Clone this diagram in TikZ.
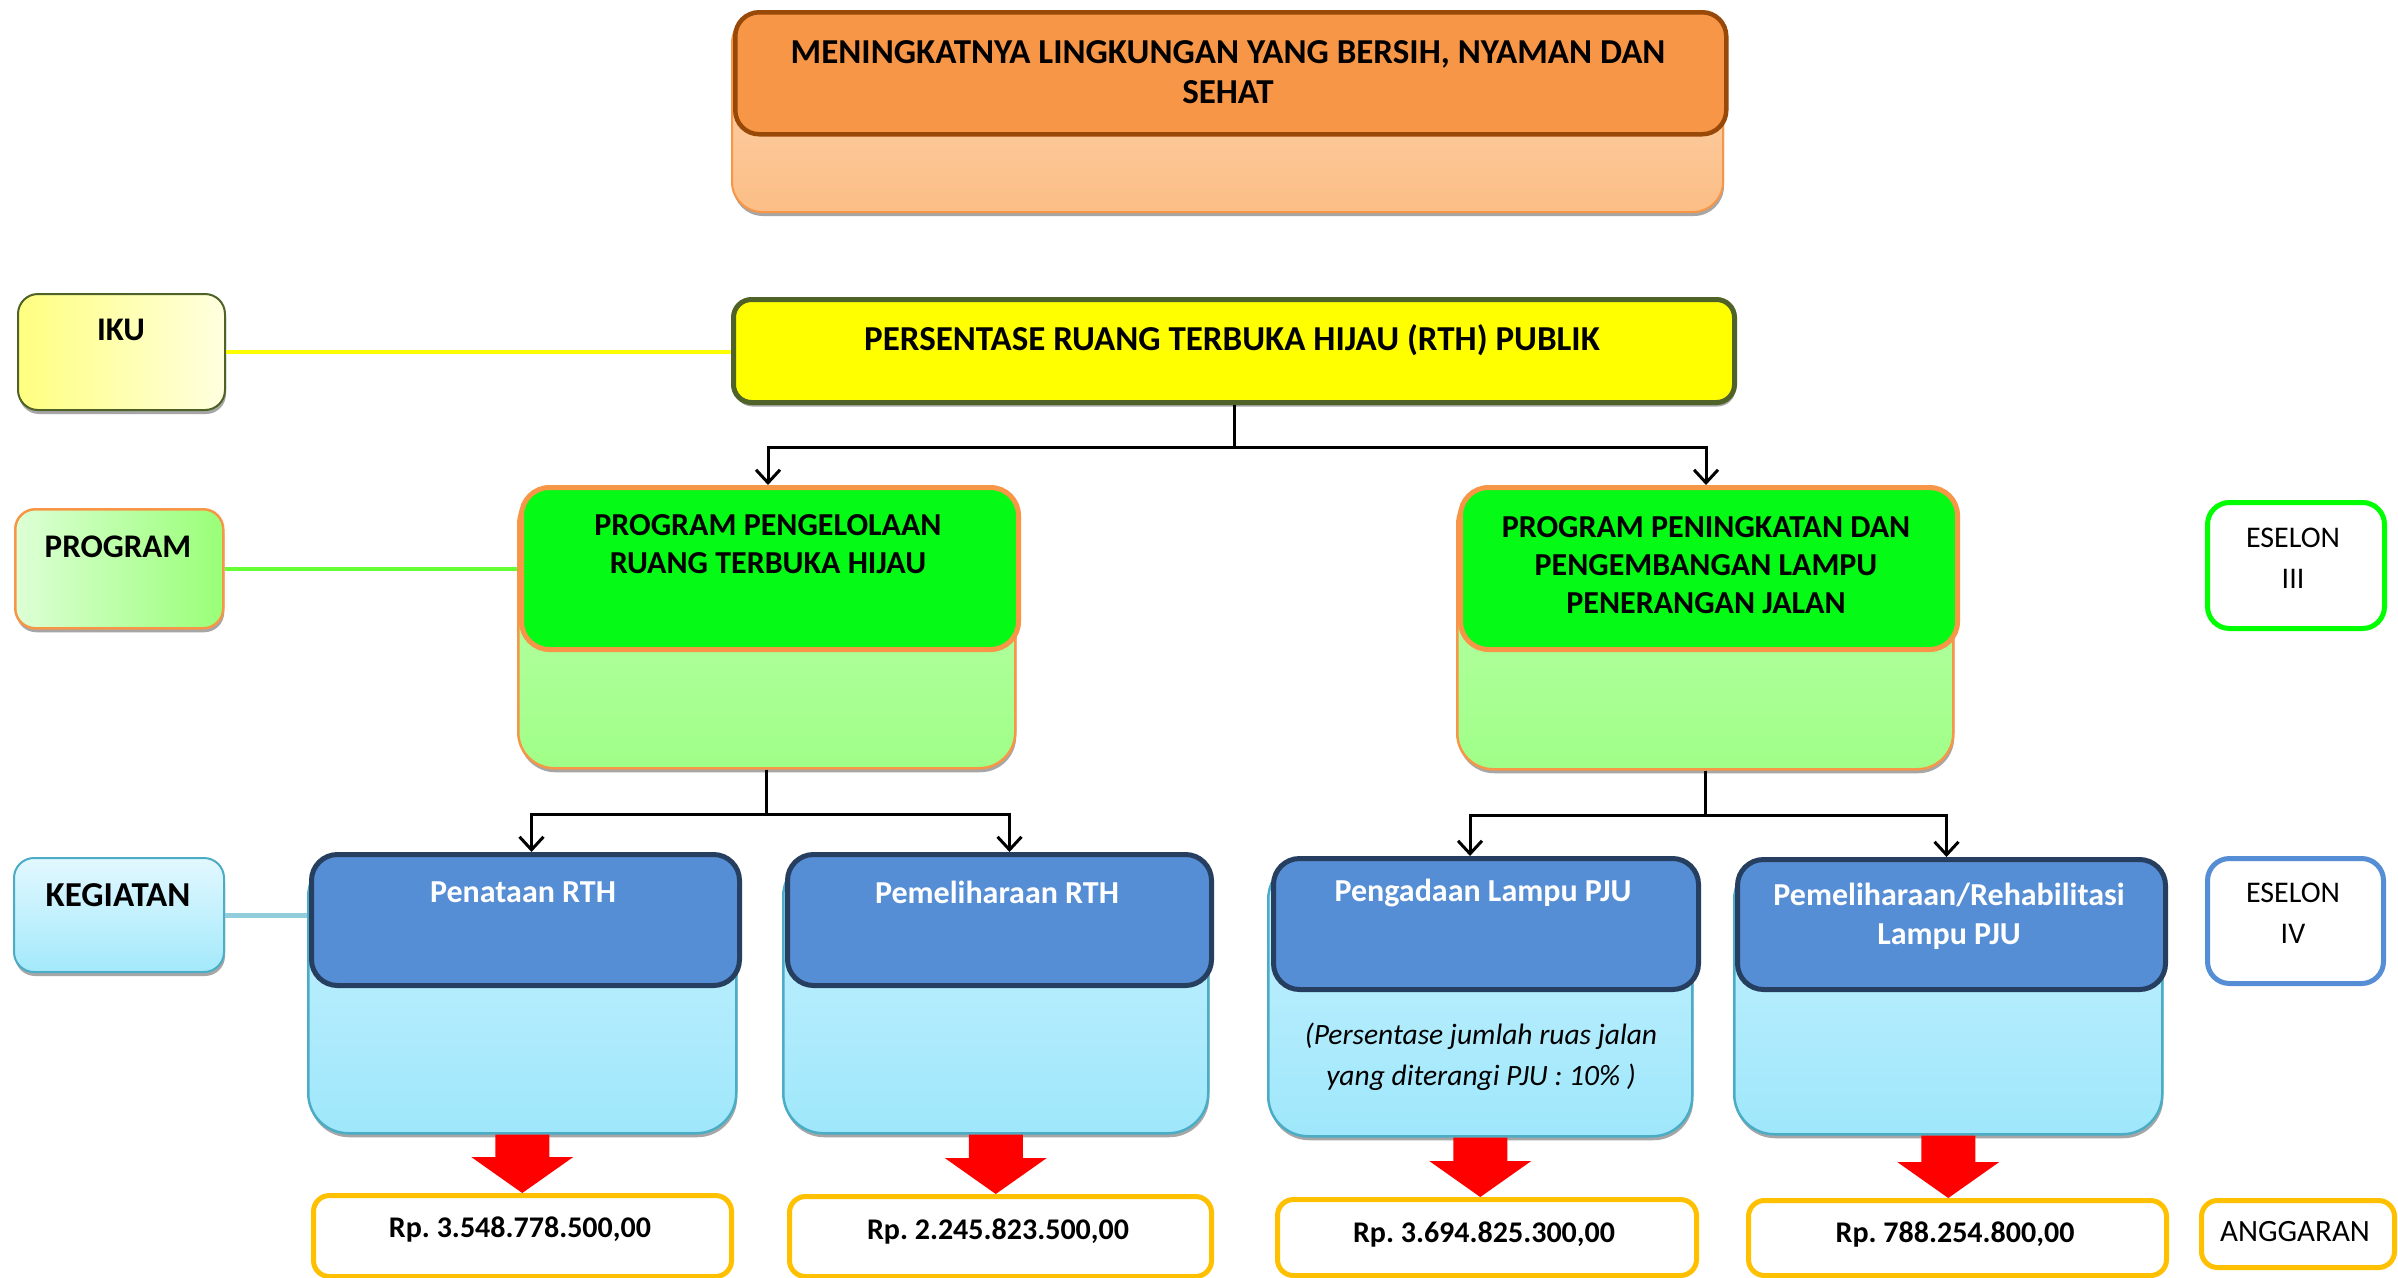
\documentclass[tikz,border=0pt]{standalone}
\usepackage{fontspec}
\setmainfont{Carlito}
\usetikzlibrary{arrows.meta,shadows,calc}
\frenchspacing
\definecolor{goalF}{HTML}{F79646}
\definecolor{goalD}{HTML}{984807}
\definecolor{goalL1}{HTML}{FFD6B2}
\definecolor{goalL2}{HTML}{FBBE86}
\definecolor{olive}{HTML}{4F6228}
\definecolor{ikuL}{HTML}{FFFF80}
\definecolor{ikuR}{HTML}{FFFFE0}
\definecolor{yel}{HTML}{FFFF00}
\definecolor{progL}{HTML}{DDFFD6}
\definecolor{progR}{HTML}{99FF77}
\definecolor{grn}{HTML}{05FA15}
\definecolor{grnL1}{HTML}{BDFFAD}
\definecolor{grnL2}{HTML}{A0FF88}
\definecolor{progline}{HTML}{66FF33}
\definecolor{kegT}{HTML}{E2F8FF}
\definecolor{kegB}{HTML}{A3E9FB}
\definecolor{teal}{HTML}{4BACC6}
\definecolor{kegline}{HTML}{92CDDC}
\definecolor{blu}{HTML}{558ED5}
\definecolor{navy}{HTML}{263E5F}
\definecolor{bluL1}{HTML}{C6F1FF}
\definecolor{bluL2}{HTML}{9FE7FB}
\definecolor{gold}{HTML}{FFC000}
\definecolor{eselgrn}{HTML}{00FF00}
\definecolor{arrred}{HTML}{FF0000}
\tikzset{
  box/.style={rectangle, anchor=north west, inner sep=0pt},
  shad/.style={drop shadow={shadow xshift=1pt, shadow yshift=-4pt, fill=black!35, opacity=1}},
  goalback/.style={box, shad, rounded corners=30pt, top color=goalL1, bottom color=goalL2, draw=goalF, line width=2pt},
  goalfront/.style={box, rounded corners=24pt, fill=goalF, draw=goalD, line width=4.5pt},
  ikubox/.style={box, shad, rounded corners=20pt, left color=ikuL, right color=ikuR, draw=olive, line width=2pt},
  rthbox/.style={box, shad, rounded corners=18pt, fill=yel, draw=olive, line width=5pt},
  proglabel/.style={box, shad, rounded corners=20pt, left color=progL, right color=progR, draw=goalF, line width=2.5pt},
  progback/.style={box, shad, rounded corners=36pt, top color=grnL1, bottom color=grnL2, draw=goalF, line width=2.5pt},
  progfront/.style={box, rounded corners=28pt, fill=grn, draw=goalF, line width=5pt},
  keglabel/.style={box, shad, rounded corners=20pt, top color=kegT, bottom color=kegB, draw=teal, line width=2pt},
  kegback/.style={box, shad, rounded corners=40pt, top color=bluL1, bottom color=bluL2, draw=teal, line width=2.5pt},
  kegfront/.style={box, rounded corners=26pt, fill=blu, draw=navy, line width=5pt},
  eselbox/.style={box, rounded corners=22pt, fill=white, line width=5pt},
  budget/.style={box, rounded corners=16pt, fill=white, draw=gold, line width=5pt},
  conn/.style={draw=black, line width=3pt, -{Straight Barb[length=13pt, width=24pt, line width=3pt]}},
  bigtxt/.style={font=\fontsize{35}{40}\selectfont\bfseries, align=center, inner sep=0pt},
  progtxt/.style={font=\fontsize{32}{38}\selectfont\bfseries, align=center, inner sep=0pt},
  labtxt/.style={font=\fontsize{33}{40}\selectfont\bfseries, align=center, inner sep=0pt},
  whitetxt/.style={font=\fontsize{32}{39}\selectfont\bfseries, text=white, align=center, inner sep=0pt},
  eseltxt/.style={font=\fontsize{30}{41}\selectfont, align=center, inner sep=0pt},
  rptxt/.style={font=\fontsize{30}{36}\selectfont\bfseries, inner sep=0pt},
}
\newcommand\redarrow[2]{%
  \coordinate (#1tip) at (#1.south |- #2.north);
  \fill[arrred] ($(#1.south)+(-27,0)$) -- ($(#1.south)+(27,0)$) -- ($(#1tip)+(27,-36)$) -- ($(#1tip)+(51,-36)$) -- (#1tip) -- ($(#1tip)+(-51,-36)$) -- ($(#1tip)+(-27,-36)$) -- cycle;}
\begin{document}
\begin{tikzpicture}[x=1pt,y=-1pt]
\useasboundingbox[fill=white] (0,0) rectangle (2398,1277);

% top goal
\node[goalback, minimum width=991pt, minimum height=199pt] (goalb) at (731,12) {};
\node[goalfront, minimum width=991pt, minimum height=122pt] (goal) at (733,10) {};
\node[bigtxt] (goal-t) at (1228,72) {MENINGKATNYA LINGKUNGAN YANG BERSIH, NYAMAN DAN\\SEHAT};

% IKU row
\node[ikubox, minimum width=207pt, minimum height=116pt] (iku) at (17,293) {};
\node[labtxt] (iku-t) at (121,330) {IKU};
\node[rthbox, minimum width=1001pt, minimum height=103pt] (rth) at (731,297) {};
\node[bigtxt] (rth-t) at (1232,340) {PERSENTASE RUANG TERBUKA HIJAU (RTH) PUBLIK};
\draw[yel, line width=4pt] (iku.east) -- (iku.east -| rth.west);

% PROGRAM row
\node[proglabel, minimum width=208pt, minimum height=119pt] (proglab) at (14,508) {};
\node[labtxt] (proglab-t) at (118,547) {PROGRAM};
\node[progback, minimum width=497pt, minimum height=280pt] (p1b) at (517,487) {};
\node[progfront, minimum width=497pt, minimum height=162pt] (p1) at (519,485) {};
\node[progtxt] (p1-t) at (768,544) {PROGRAM PENGELOLAAN\\RUANG TERBUKA HIJAU};
\node[progback, minimum width=496pt, minimum height=281pt] (p2b) at (1456,487) {};
\node[progfront, minimum width=497pt, minimum height=162pt] (p2) at (1458,485) {};
\node[progtxt] (p2-t) at (1706,565) {PROGRAM PENINGKATAN DAN\\PENGEMBANGAN LAMPU\\PENERANGAN JALAN};
\draw[progline, line width=4pt] (proglab.east) -- (proglab.east -| p1b.west);
\node[eselbox, draw=eselgrn, minimum width=177pt, minimum height=126pt] (es3) at (2205,500) {};
\node[eseltxt] (es3-t) at (2293,558) {ESELON\\III};

\draw[conn] (rth.south) -- ++(0,42) -| ([xshift=-2pt]p1.north);
\draw[conn] (rth.south) -- ++(0,42) -| ([xshift=-3pt]p2.north);

% KEGIATAN row
\node[keglabel, minimum width=210pt, minimum height=114pt] (keglab) at (13,857) {};
\node[labtxt, font=\fontsize{35}{40}\selectfont\bfseries] (keglab-t) at (118,895) {KEGIATAN};

\node[kegback, minimum width=428pt, minimum height=277pt] (k1b) at (307,855) {};
\node[kegfront, minimum width=428pt, minimum height=131pt] (k1) at (309,852) {};
\node[whitetxt] (k1-t) at (523,892) {Penataan RTH};

\node[kegback, minimum width=425pt, minimum height=277pt] (k2b) at (782,855) {};
\node[kegfront, minimum width=424pt, minimum height=131pt] (k2) at (785,852) {};
\node[whitetxt] (k2-t) at (997,892) {Pemeliharaan RTH};

\node[kegback, minimum width=424pt, minimum height=277pt] (k3b) at (1267,858) {};
\node[kegfront, minimum width=425pt, minimum height=131pt] (k3) at (1271,856) {};
\node[whitetxt] (k3-t) at (1483,893) {Pengadaan Lampu PJU};
\node[font=\fontsize{29.5}{41}\selectfont\itshape, align=center, inner sep=0pt] (k3-n) at (1481,1057) {(Persentase jumlah ruas jalan\\yang diterangi PJU : 10\% )};

\node[kegback, minimum width=428pt, minimum height=275pt] (k4b) at (1733,858) {};
\node[kegfront, minimum width=428pt, minimum height=130pt] (k4) at (1735,857) {};
\node[whitetxt] (k4-t) at (1949,916) {Pemeliharaan/Rehabilitasi\\Lampu PJU};

\draw[kegline, line width=5pt] (keglab.east) -- (keglab.east -| k1b.west);
\node[eselbox, draw=blu, minimum width=176pt, minimum height=125pt] (es4) at (2205,856) {};
\node[eseltxt] (es4-t) at (2293,913) {ESELON\\IV};

\draw[conn] (p1b.south) -- ++(0,45) -| ([xshift=6pt]k1.north);
\draw[conn] (p1b.south) -- ++(0,45) -| ([xshift=10pt]k2.north);
\draw[conn] (p2b.south) -- ++(0,45) -| ([xshift=-16pt]k3.north);
\draw[conn] (p2b.south) -- ++(0,45) -| ([xshift=-5pt]k4.north);

% ANGGARAN row
\node[budget, minimum width=418pt, minimum height=81pt] (a1) at (311,1193) {};
\node[rptxt] (a1-t) at (520,1229) {Rp. 3.548.778.500,00};
\node[budget, minimum width=422pt, minimum height=80pt] (a2) at (787,1194) {};
\node[rptxt] (a2-t) at (998,1231) {Rp. 2.245.823.500,00};
\node[budget, minimum width=419pt, minimum height=76pt] (a3) at (1275,1197) {};
\node[rptxt] (a3-t) at (1484,1234) {Rp. 3.694.825.300,00};
\node[budget, minimum width=418pt, minimum height=75pt] (a4) at (1746,1198) {};
\node[rptxt] (a4-t) at (1955,1234) {Rp. 788.254.800,00};
\node[eselbox, draw=gold, rounded corners=16pt, minimum width=193pt, minimum height=67pt] (ang) at (2199,1198) {};
\node[eseltxt, font=\fontsize{31}{36}\selectfont] (ang-t) at (2295,1232) {ANGGARAN};

\redarrow{k1b}{a1}
\redarrow{k2b}{a2}
\redarrow{k3b}{a3}
\redarrow{k4b}{a4}
\end{tikzpicture}
\end{document}
